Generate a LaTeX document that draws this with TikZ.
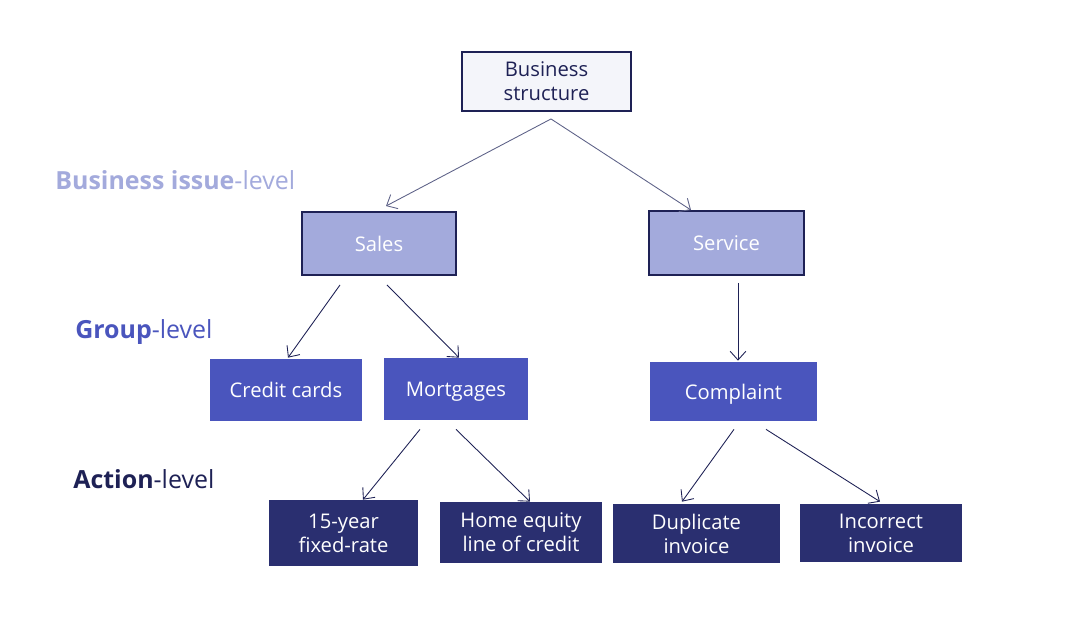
\documentclass[tikz,border=0pt]{standalone}
\usepackage{fontspec}
\setmainfont{Open Sans}
\usetikzlibrary{arrows.meta}
\definecolor{navy}{HTML}{1E2155}
\definecolor{lilac}{HTML}{A3AADC}
\definecolor{indigo}{HTML}{4A55BD}
\definecolor{deepblue}{HTML}{2A2F70}
\definecolor{paper}{HTML}{F4F5FA}
\definecolor{greyline}{HTML}{5E6288}
\tikzset{
  box/.style={rectangle, align=center, inner sep=0pt, text=white,
    font=\fontsize{11.5}{13.6}\selectfont},
  oneline/.style={text depth=0pt},
  topbox/.style={box, draw=navy, line width=1.1pt, fill=paper, text=navy},
  issuebox/.style={box, oneline, draw=navy, line width=1.1pt, fill=lilac},
  groupbox/.style={box, oneline, fill=indigo},
  actionbox/.style={box, fill=deepblue},
  levellabel/.style={anchor=west, inner sep=0pt, font=\fontsize{14.2}{16}\selectfont},
  link/.style={-{Straight Barb[length=5pt,width=9pt]}, draw=navy, line width=0.5pt},
}
\begin{document}
\begin{tikzpicture}[x=0.02cm, y=-0.02cm]
      \useasboundingbox (0,0) rectangle (1066,625);
      \path
        (546.5,81.5) node[topbox, minimum width=3.38cm, minimum height=1.18cm] (top){Business\\structure}
        (379,243.5) node[issuebox, minimum width=3.08cm, minimum height=1.26cm] (sales){Sales}
        (726.5,243) node[issuebox, minimum width=3.1cm, minimum height=1.28cm] (service){Service}
        (286,390) node[groupbox, minimum width=3.04cm, minimum height=1.24cm] (credit){Credit cards}
        (456,389) node[groupbox, minimum width=2.88cm, minimum height=1.24cm] (mortgages){Mortgages}
        (733.5,391.5) node[groupbox, minimum width=3.34cm, minimum height=1.18cm] (complaint){Complaint}
        (343.5,533) node[actionbox, minimum width=2.98cm, minimum height=1.32cm] (fixed){15-year\\fixed-rate}
        (521,532.5) node[actionbox, minimum width=3.24cm, minimum height=1.22cm] (equity){Home equity\\line of credit}
        (696.5,533.5) node[actionbox, minimum width=3.34cm, minimum height=1.18cm] (duplicate){Duplicate\\invoice}
        (881,533) node[actionbox, minimum width=3.24cm, minimum height=1.16cm] (incorrect){Incorrect\\invoice};
      \path
        (55,180) node[levellabel, text=lilac] (issuelevel){\textbf{Business issue}-level}
        (75,332) node[levellabel, text=indigo] (grouplevel){\textbf{Group}-level}
        (73,479) node[levellabel, text=navy] (actionlevel){\textbf{Action}-level};
      \begin{scope}[link]
        \draw[greyline] ([shift={(4.5,7)}]top.south) to ([shift={(7,-5)}]sales.north);
        \draw[greyline] ([shift={(4.5,7)}]top.south) to ([shift={(-35.5,0)}]service.north);
        \draw ([shift={(-39,9)}]sales.south) to ([shift={(2,-1)}]credit.north);
        \draw ([shift={(8,9)}]sales.south) to ([shift={(3,0)}]mortgages.north);
        \draw ([shift={(11.5,7)}]service.south) to ([shift={(4.5,-1)}]complaint.north);
        \draw ([shift={(-36,9)}]mortgages.south) to ([shift={(19.5,0)}]fixed.north);
        \draw ([shift={(0,9)}]mortgages.south) to ([shift={(9,0)}]equity.north);
        \draw ([shift={(0.5,8)}]complaint.south) to ([shift={(-14.5,-2)}]duplicate.north);
        \draw ([shift={(32.5,8)}]complaint.south) to ([shift={(-1,-2)}]incorrect.north);
      \end{scope}
    \end{tikzpicture}
\end{document}
